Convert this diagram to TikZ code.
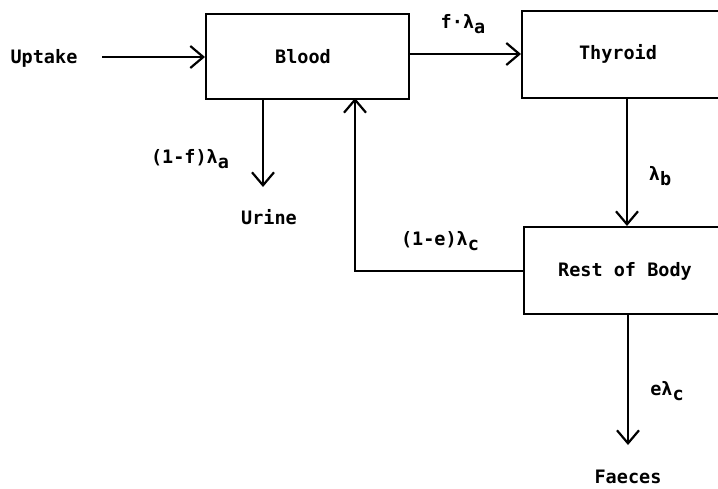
\documentclass[tikz,border=0pt]{standalone}
\usepackage{fontspec}
\newfontfamily\dmono{DejaVu Sans Mono}
\usetikzlibrary{arrows.meta}
\newcommand{\sbs}[1]{\raisebox{-5pt}{#1}}
\begin{document}
\begin{tikzpicture}[x=1pt,y=-1pt,
  lbl/.style={font=\dmono\bfseries\fontsize{18.5}{20}\selectfont, inner sep=0pt, anchor=base},
  box/.style={draw, line width=2.2pt, minimum width=#1, anchor=north west, inner sep=0pt},
  arr/.style={line width=2.2pt, -{Straight Barb[length=13pt,width=22pt,line width=2.2pt]}}]
\useasboundingbox (0,0) rectangle (718,488);
\clip (0,0) rectangle (718,488);
% boxes
\node[box=203pt, minimum height=85pt] (blood) at (205,13) {};
\node[box=240pt, minimum height=87pt] (thyroid) at (521,10) {};
\node[box=240pt, minimum height=87pt] (rest) at (523,226) {};
% box texts
\node[lbl] (bloodt) at (303,63) {Blood};
\node[lbl] (thyt) at (618,59) {Thyroid};
\node[lbl] (restt) at (625,276) {Rest of Body};
% outside texts
\node[lbl] (uptake) at (44,63) {Uptake};
\node[lbl] (urine) at (269,224) {Urine};
\node[lbl] (faeces) at (628,483) {Faeces};
% rate labels
\node[lbl] (lfa) at (463,28) {f·λ\sbs{a}};
\node[lbl] (l1fa) at (190,163) {(1-f)λ\sbs{a}};
\node[lbl] (lb) at (660,180) {λ\sbs{b}};
\node[lbl] (l1ec) at (440,245) {(1-e)λ\sbs{c}};
\node[lbl] (lec) at (667,395) {eλ\sbs{c}};
% connector end points
\coordinate (upstart) at (102,57);
\coordinate (bt) at (408,54);
\coordinate (uend) at (263,187);
\coordinate (bin) at (355,98);
\coordinate (tx) at (627,97);
\coordinate (fx) at (628,445);
% connectors
\draw[arr] (upstart) -- (blood.west |- upstart);
\draw[arr] (bt) -- (thyroid.west |- bt);
\draw[arr] (blood.south -| uend) -- (uend);
\draw[arr] (rest.west) -| (bin);
\draw[arr] (tx) -- (rest.north -| tx);
\draw[arr] (rest.south -| fx) -- (fx);
\end{tikzpicture}
\end{document}
